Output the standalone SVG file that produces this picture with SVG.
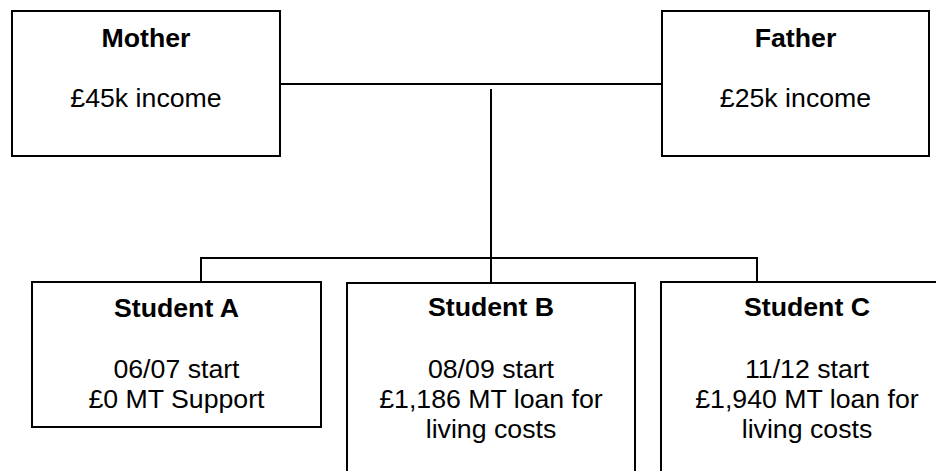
<svg xmlns="http://www.w3.org/2000/svg" width="936" height="471" viewBox="0 0 936 471">
<style>
.box{fill:#fff;stroke:#000;stroke-width:2}
.ln{fill:none;stroke:#000;stroke-width:2}
text{font-family:"Liberation Sans",Arial,sans-serif;font-size:26.7px;fill:#000;text-anchor:middle}
.b{font-weight:bold}
</style>
<rect width="936" height="471" fill="#fff"/>
<g id="connectors">
<line class="ln" x1="280" y1="84" x2="662" y2="84"/>
<line class="ln" x1="491" y1="89" x2="491" y2="283"/>
<polyline class="ln" points="201,282 201,258 757,258 757,282"/>
</g>
<g id="mother">
<rect class="box" x="12" y="11" width="268" height="145"/>
<text class="b" x="146" y="46.5">Mother</text>
<text x="146" y="107">£45k income</text>
</g>
<g id="father">
<rect class="box" x="662" y="11" width="267" height="145"/>
<text class="b" x="795.5" y="46.5">Father</text>
<text x="795.5" y="107">£25k income</text>
</g>
<g id="studentA">
<rect class="box" x="32" y="282" width="289" height="145"/>
<text class="b" x="176.5" y="316.5">Student A</text>
<text x="176.5" y="378">06/07 start</text>
<text x="176.5" y="408">£0 MT Support</text>
</g>
<g id="studentB">
<rect class="box" x="347" y="283" width="288" height="200"/>
<text class="b" x="491" y="316">Student B</text>
<text x="491" y="378">08/09 start</text>
<text x="491" y="408">£1,186 MT loan for</text>
<text x="491" y="438">living costs</text>
</g>
<g id="studentC">
<rect class="box" x="661" y="282" width="292" height="200"/>
<text class="b" x="807" y="315.5">Student C</text>
<text x="807" y="378">11/12 start</text>
<text x="807" y="408">£1,940 MT loan for</text>
<text x="807" y="438">living costs</text>
</g>
</svg>
